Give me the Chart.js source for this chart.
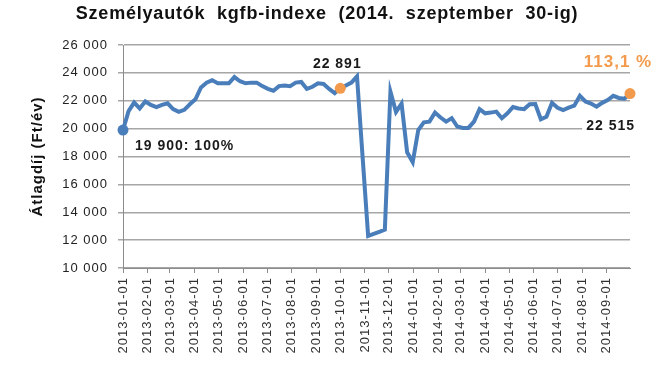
<!DOCTYPE html>
<html>
<head>
<meta charset="utf-8">
<script src="https://cdn.jsdelivr.net/npm/chart.js@4"></script>
<style>
html, body { margin: 0; padding: 0; background: #fff; }
</style>
</head>
<body>
<canvas id="chart" width="666" height="377"></canvas>
<script>
'use strict'

const ctx = document.querySelector('#chart').getContext('2d')

// weekly data, first week starts 2013-01-01
const startDate = '2013-01-01'
const weekValues = [
    19900, 21250, 21870, 21450, 21950, 21700, 21550, 21700, 21820, 21400,
    21200, 21350, 21750, 22100, 22950, 23300, 23480, 23250, 23250, 23250,
    23700, 23400, 23250, 23300, 23300, 23050, 22850, 22720, 23050, 23100,
    23050, 23300, 23350, 22850, 23000, 23250, 23200, 22850, 22550, 22891,
    23100, 23300, 23750, 18000, 12300, 12450, 12600, 12750, 22650, 21200,
    21800, 18300, 17600, 19900, 20450, 20500, 21150, 20800, 20500, 20750,
    20150, 20050, 20050, 20500, 21400, 21100, 21150, 21220, 20750, 21100,
    21550, 21450, 21400, 21750, 21770, 20670, 20850, 21850, 21500, 21330,
    21500, 21650, 22350, 21950, 21800, 21570, 21850, 22050, 22350, 22200,
    22150, 22515
]

const monthLabels = [
    '2013-01-01', '2013-02-01', '2013-03-01', '2013-04-01', '2013-05-01',
    '2013-06-01', '2013-07-01', '2013-08-01', '2013-09-01', '2013-10-01',
    '2013-11-01', '2013-12-01', '2014-01-01', '2014-02-01', '2014-03-01',
    '2014-04-01', '2014-05-01', '2014-06-01', '2014-07-01', '2014-08-01',
    '2014-09-01'
]
const endDate = '2014-09-30'

const yTicks = [10000, 12000, 14000, 16000, 18000, 20000, 22000, 24000, 26000]

const titleText = 'Személyautók  kgfb-indexe  (2014.  szeptember  30-ig)'

// highlighted points
const baseIndex = 0
const markIndex = 39
const lastIndex = weekValues.length - 1

const blue = '#4a7ebb'
const orange = '#f39a4c'
const fontFamily = '"Liberation Sans", Arial, sans-serif'

const dayOf = (str) => {
    const [y, m, d] = str.split('-').map(Number)
    const [y0, m0, d0] = startDate.split('-').map(Number)
    return Math.round((Date.UTC(y, m - 1, d) - Date.UTC(y0, m0 - 1, d0)) / 86400000)
}

const monthDays = monthLabels.map(dayOf)
const points = weekValues.map((v, i) => ({ x: i * 7, y: v }))

const fmt = (n) => String(n).replace(/\B(?=(\d{3})+(?!\d))/g, '\u00a0')

const radius = weekValues.map((v, i) => [baseIndex, markIndex, lastIndex].includes(i) ? 5.5 : 0)
const pointColor = weekValues.map((v, i) => i == baseIndex ? blue : orange)

// the reference text is a little wide, so space the letters out
const spacingPlugin = {
    id: 'spacing',
    beforeDraw(chart) {
        chart.ctx.letterSpacing = '1px'
    }
}

// title and value labels next to the marked points
const labelPlugin = {
    id: 'labels',
    afterDatasetsDraw(chart) {
        const c = chart.ctx
        const xs = chart.scales.x
        const ys = chart.scales.y
        const px = (i) => xs.getPixelForValue(points[i].x)
        const py = (i) => ys.getPixelForValue(points[i].y)

        c.save()
        c.textBaseline = 'middle'

        c.letterSpacing = '0.8px'
        c.font = `bold 18px ${fontFamily}`
        c.fillStyle = '#111'
        c.textAlign = 'center'
        c.fillText(titleText, 327, 14)

        c.letterSpacing = '1px'
        c.font = `bold 14px ${fontFamily}`
        c.fillStyle = '#1a1a1a'

        c.textAlign = 'left'
        c.fillText(fmt(weekValues[baseIndex]) + ': 100%', px(baseIndex) + 12, py(baseIndex) + 16)

        c.textAlign = 'center'
        c.fillText(fmt(weekValues[markIndex]), px(markIndex) - 3, py(markIndex) - 24)

        const lastTxt = fmt(weekValues[lastIndex])
        const w = c.measureText(lastTxt).width
        c.fillStyle = '#fff'
        c.fillRect(px(lastIndex) + 5 - w - 4, py(lastIndex) + 33 - 8, w + 8, 16)
        c.fillStyle = '#1a1a1a'
        c.textAlign = 'right'
        c.fillText(lastTxt, px(lastIndex) + 5, py(lastIndex) + 33)

        const pct = (weekValues[lastIndex] / weekValues[baseIndex] * 100).toFixed(1).replace('.', ',') + ' %'
        c.font = `bold 17px ${fontFamily}`
        c.fillStyle = orange
        c.textAlign = 'center'
        c.fillText(pct, px(lastIndex) - 12, py(lastIndex) - 31)
        c.restore()
    }
}

const data = {
    datasets: [{
        data: points,
        borderColor: blue,
        borderWidth: 4,
        tension: 0,
        pointRadius: radius,
        pointBackgroundColor: pointColor,
        pointBorderWidth: 0,
        clip: false
    }]
}

const config = {
    type: 'line',
    data: data,
    plugins: [spacingPlugin, labelPlugin],
    options: {
        responsive: false,
        animation: false,
        layout: { padding: { left: 0, right: 36, top: 45, bottom: 0 } },
        plugins: {
            legend: { display: false },
            tooltip: { enabled: false },
            title: { display: false }
        },
        scales: {
            x: {
                type: 'linear',
                min: 0,
                max: dayOf(endDate),
                afterBuildTicks: (scale) => {
                    scale.ticks = monthDays.map(d => ({ value: d }))
                },
                afterFit: (scale) => { scale.height = 109 },
                ticks: {
                    autoSkip: false,
                    minRotation: 90,
                    maxRotation: 90,
                    padding: 4,
                    color: '#333',
                    font: { family: fontFamily, size: 13 },
                    callback: (value) => monthLabels[monthDays.indexOf(value)]
                },
                grid: { drawOnChartArea: false, drawTicks: true, tickLength: 5, color: '#8c8c8c' },
                border: { display: true, color: '#8c8c8c', width: 1 }
            },
            y: {
                min: 10000,
                max: 26000,
                afterBuildTicks: (scale) => {
                    scale.ticks = yTicks.map(v => ({ value: v }))
                },
                afterFit: (scale) => { scale.width = 123 },
                ticks: {
                    padding: 10,
                    color: '#222',
                    font: { family: fontFamily, size: 13 },
                    callback: (value) => fmt(value)
                },
                grid: { color: '#a6a6a6', lineWidth: 1.5, tickLength: 5 },
                border: { display: true, color: '#8c8c8c', width: 1 },
                title: {
                    display: true,
                    text: 'Átlagdíj (Ft/év)',
                    color: '#111',
                    font: { family: fontFamily, size: 15, weight: 'bold' },
                    padding: { top: 29, bottom: 0 }
                }
            }
        }
    }
}

const chart = new Chart(ctx, config)
</script>
</body>
</html>
